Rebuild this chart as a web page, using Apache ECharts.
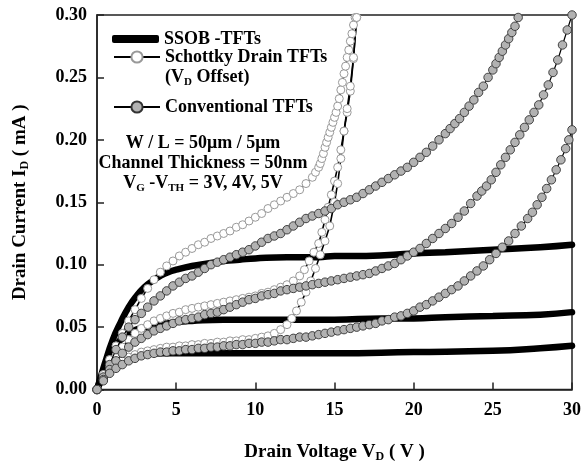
<!DOCTYPE html>
<html>
<head>
<meta charset="utf-8">
<script src="https://cdn.jsdelivr.net/npm/echarts@6/dist/echarts.min.js"></script>
<style>
html, body { margin: 0; padding: 0; background: #fff; }
#chart { width: 586px; height: 468px; }
</style>
</head>
<body>
<div id="chart"></div>
<script>
// drain voltage (V) / drain current (mA) pairs
var ssob5 = [[0,0],[0.5,0.021],[1,0.040],[1.5,0.054],[2,0.066],[2.5,0.075],[3,0.082],[3.5,0.087],[4,0.091],[4.5,0.094],[5,0.096],[6,0.099],[7,0.101],[8,0.103],[9,0.104],[10,0.105],[12,0.106],[14,0.106],[15,0.107],[17,0.107],[20,0.109],[22,0.110],[25,0.112],[28,0.114],[30,0.116]];
var ssob4 = [[0,0],[0.5,0.018],[1,0.032],[1.5,0.040],[2,0.045],[2.5,0.048],[3,0.050],[4,0.052],[5,0.054],[6,0.055],[8,0.056],[10,0.056],[12,0.056],[15,0.056],[18,0.057],[20,0.057],[22,0.058],[25,0.059],[28,0.060],[30,0.062]];
var ssob3 = [[0,0],[0.5,0.012],[1,0.020],[1.5,0.024],[2,0.026],[3,0.028],[4,0.029],[6,0.029],[10,0.029],[15,0.029],[20,0.030],[25,0.031],[28,0.033],[30,0.035]];

var schottky5 = [[0,0],[0.4,0.012],[0.8,0.024],[1.2,0.035],[1.6,0.045],[2.0,0.055],[2.4,0.064],[2.8,0.073],[3.2,0.081],[3.6,0.088],[4.0,0.094],[4.4,0.099],[4.8,0.103],[5.2,0.107],[5.6,0.110],[6.0,0.113],[6.4,0.116],[6.8,0.118],[7.2,0.121],[7.6,0.123],[8.0,0.125],[8.4,0.127],[8.8,0.130],[9.2,0.132],[9.6,0.135],[10.0,0.138],[10.4,0.141],[10.8,0.145],[11.2,0.148],[11.6,0.151],[12.0,0.154],[12.4,0.157],[12.8,0.160],[13.2,0.165],[13.6,0.170],[13.8,0.174],[14.0,0.178],[14.1,0.181],[14.2,0.185],[14.3,0.189],[14.4,0.194],[14.5,0.198],[14.6,0.202],[14.7,0.206],[14.8,0.210],[14.9,0.214],[15.0,0.218],[15.1,0.222],[15.2,0.227],[15.3,0.233],[15.4,0.240],[15.5,0.246],[15.6,0.253],[15.7,0.259],[15.8,0.266],[15.9,0.272],[16.0,0.279],[16.1,0.285],[16.2,0.292],[16.3,0.298]];
var schottky4 = [[0,0],[0.4,0.010],[0.8,0.019],[1.2,0.027],[1.6,0.034],[2.0,0.040],[2.4,0.045],[2.8,0.049],[3.2,0.052],[3.6,0.055],[4.0,0.057],[4.4,0.059],[4.8,0.061],[5.2,0.062],[5.6,0.064],[6.0,0.065],[6.4,0.066],[6.8,0.067],[7.2,0.068],[7.6,0.069],[8.0,0.070],[8.4,0.071],[8.8,0.072],[9.2,0.073],[9.6,0.074],[10.0,0.075],[10.4,0.077],[10.8,0.078],[11.2,0.080],[11.6,0.082],[12.0,0.084],[12.4,0.087],[12.8,0.091],[13.1,0.096],[13.4,0.103],[13.7,0.110],[14.0,0.117],[14.2,0.126],[14.4,0.136],[14.6,0.146],[14.8,0.156],[15.0,0.167],[15.2,0.178],[15.4,0.192],[15.6,0.207],[15.8,0.222],[16.0,0.239],[16.2,0.265],[16.4,0.298]];
var schottky3 = [[0,0],[0.4,0.008],[0.8,0.014],[1.2,0.019],[1.6,0.023],[2.0,0.026],[2.4,0.028],[2.8,0.030],[3.2,0.031],[3.6,0.032],[4.0,0.033],[4.4,0.034],[4.8,0.034],[5.2,0.035],[5.6,0.035],[6.0,0.036],[6.4,0.036],[6.8,0.037],[7.2,0.037],[7.6,0.038],[8.0,0.038],[8.4,0.039],[8.8,0.039],[9.2,0.040],[9.6,0.040],[10.0,0.041],[10.4,0.042],[10.8,0.043],[11.2,0.045],[11.6,0.048],[12.0,0.052],[12.3,0.057],[12.6,0.063],[12.9,0.070],[13.2,0.078],[13.5,0.087],[13.8,0.097],[14.1,0.108],[14.4,0.119],[14.7,0.131],[15.0,0.150],[15.2,0.165],[15.4,0.185],[15.6,0.207],[15.8,0.225],[16.0,0.243],[16.2,0.266],[16.4,0.298]];

var conv5 = [[0,0],[0.4,0.010],[0.8,0.020],[1.2,0.032],[1.6,0.042],[2.0,0.050],[2.4,0.056],[2.8,0.061],[3.2,0.066],[3.6,0.071],[4.0,0.075],[4.4,0.079],[4.8,0.083],[5.2,0.086],[5.6,0.089],[6.0,0.091],[6.4,0.094],[6.8,0.097],[7.2,0.100],[7.6,0.102],[8.0,0.104],[8.4,0.106],[8.8,0.108],[9.2,0.110],[9.6,0.112],[10.0,0.115],[10.4,0.118],[10.8,0.121],[11.2,0.123],[11.6,0.125],[12.0,0.128],[12.4,0.131],[12.8,0.134],[13.2,0.137],[13.6,0.139],[14.0,0.141],[14.4,0.143],[14.8,0.145],[15.2,0.148],[15.6,0.150],[16.0,0.152],[16.4,0.154],[16.8,0.157],[17.2,0.160],[17.6,0.163],[18.0,0.166],[18.4,0.169],[18.8,0.172],[19.2,0.175],[19.6,0.178],[20.0,0.182],[20.4,0.186],[20.8,0.190],[21.2,0.195],[21.6,0.200],[22.0,0.205],[22.3,0.209],[22.6,0.213],[22.9,0.217],[23.2,0.222],[23.5,0.227],[23.8,0.232],[24.1,0.238],[24.4,0.243],[24.7,0.250],[25.0,0.256],[25.2,0.261],[25.4,0.266],[25.6,0.271],[25.8,0.276],[26.0,0.281],[26.2,0.286],[26.4,0.291],[26.6,0.298]];
var conv4 = [[0,0],[0.4,0.008],[0.8,0.016],[1.2,0.023],[1.6,0.029],[2.0,0.034],[2.4,0.038],[2.8,0.041],[3.2,0.044],[3.6,0.047],[4.0,0.049],[4.4,0.051],[4.8,0.053],[5.2,0.055],[5.6,0.056],[6.0,0.057],[6.4,0.058],[6.8,0.060],[7.2,0.061],[7.6,0.062],[8.0,0.064],[8.4,0.066],[8.8,0.068],[9.2,0.070],[9.6,0.072],[10.0,0.073],[10.4,0.075],[10.8,0.076],[11.2,0.077],[11.6,0.079],[12.0,0.080],[12.4,0.081],[12.8,0.082],[13.2,0.083],[13.6,0.084],[14.0,0.085],[14.4,0.086],[14.8,0.087],[15.2,0.088],[15.6,0.089],[16.0,0.090],[16.4,0.091],[16.8,0.092],[17.2,0.093],[17.6,0.095],[18.0,0.097],[18.4,0.099],[18.8,0.101],[19.2,0.104],[19.6,0.107],[20.0,0.110],[20.4,0.113],[20.8,0.117],[21.2,0.121],[21.6,0.125],[22.0,0.129],[22.4,0.133],[22.8,0.138],[23.2,0.143],[23.6,0.149],[24.0,0.155],[24.3,0.159],[24.6,0.163],[24.9,0.168],[25.2,0.174],[25.5,0.180],[25.8,0.186],[26.1,0.192],[26.4,0.198],[26.7,0.204],[27.0,0.210],[27.3,0.216],[27.6,0.222],[27.9,0.228],[28.2,0.236],[28.5,0.244],[28.8,0.254],[29.1,0.264],[29.4,0.276],[29.7,0.288],[30.0,0.300]];
var conv3 = [[0,0],[0.4,0.007],[0.8,0.013],[1.2,0.017],[1.6,0.020],[2.0,0.023],[2.4,0.025],[2.8,0.027],[3.2,0.028],[3.6,0.029],[4.0,0.030],[4.4,0.030],[4.8,0.031],[5.2,0.031],[5.6,0.032],[6.0,0.032],[6.4,0.033],[6.8,0.033],[7.2,0.034],[7.6,0.034],[8.0,0.035],[8.4,0.035],[8.8,0.036],[9.2,0.036],[9.6,0.037],[10.0,0.037],[10.4,0.038],[10.8,0.038],[11.2,0.039],[11.6,0.040],[12.0,0.040],[12.4,0.041],[12.8,0.042],[13.2,0.042],[13.6,0.043],[14.0,0.044],[14.4,0.045],[14.8,0.046],[15.2,0.047],[15.6,0.048],[16.0,0.049],[16.4,0.050],[16.8,0.051],[17.2,0.052],[17.6,0.053],[18.0,0.055],[18.4,0.056],[18.8,0.058],[19.2,0.059],[19.6,0.061],[20.0,0.063],[20.4,0.066],[20.8,0.068],[21.2,0.071],[21.6,0.074],[22.0,0.077],[22.4,0.080],[22.8,0.083],[23.2,0.087],[23.6,0.091],[24.0,0.095],[24.4,0.099],[24.8,0.104],[25.2,0.109],[25.6,0.114],[26.0,0.119],[26.4,0.125],[26.8,0.131],[27.2,0.137],[27.5,0.142],[27.8,0.148],[28.1,0.154],[28.4,0.161],[28.7,0.168],[29.0,0.176],[29.3,0.184],[29.6,0.193],[29.8,0.200],[30.0,0.208]];

var FONT = "'Liberation Serif', 'Times New Roman', serif";
var SSOB = 'SSOB -TFTs';
var SCH = 'Schottky Drain TFTs';
var CONV = 'Conventional TFTs';

function ssobSeries(data){
	return {
		name: SSOB, type: 'line', data: data, symbol: 'none', smooth: true, z: 2,
		lineStyle: { color: '#000', width: 6.5, cap: 'round' },
		itemStyle: { color: '#000' }
	};
}
function schSeries(data){
	return {
		name: SCH, type: 'line', data: data, symbol: 'circle', symbolSize: 8, z: 3,
		lineStyle: { color: '#000', width: 1.6 },
		itemStyle: { color: '#fff', borderColor: '#999', borderWidth: 1 }
	};
}
function convSeries(data){
	return {
		name: CONV, type: 'line', data: data, symbol: 'circle', symbolSize: 8.5, z: 4,
		lineStyle: { color: '#000', width: 1.2 },
		itemStyle: { color: '#b2b2b2', borderColor: '#333', borderWidth: 0.9 }
	};
}

function rich(size){
	return {
		a: { fontFamily: FONT, fontWeight: 'bold', fontSize: size, color: '#000' },
		s: { fontFamily: FONT, fontWeight: 'bold', fontSize: Math.round(size * 0.62), color: '#000', verticalAlign: 'bottom', padding: [size * 0.55, 0, 0, 0] }
	};
}
var legendText = { fontFamily: FONT, fontWeight: 'bold', fontSize: 18, color: '#000', lineHeight: 20 };

var chart = echarts.init(document.getElementById('chart'));
chart.setOption({
	animation: false,
	backgroundColor: '#fff',
	grid: { left: 97, right: 14, top: 15, bottom: 72, show: true, borderColor: '#222', borderWidth: 1.5 },
	legend: [{
		data: [{ name: SSOB, icon: 'roundRect' }], left: 112, top: 29, padding: 0,
		itemWidth: 47, itemHeight: 8, itemGap: 0, itemStyle: { color: '#000' }, lineStyle: { width: 0 },
		textStyle: legendText
	}, {
		data: [SCH], left: 113, top: 47, padding: 0,
		itemWidth: 46, itemHeight: 14,
		textStyle: legendText
	}, {
		data: [CONV], left: 113, top: 97, padding: 0,
		itemWidth: 46, itemHeight: 14,
		textStyle: legendText
	}],
	xAxis: {
		type: 'value', min: 0, max: 30, interval: 5,
		name: '{a|Drain Voltage V}{s|D}{a| ( V )}', nameLocation: 'middle', nameGap: 51,
		nameTextStyle: { rich: rich(19) },
		axisLine: { show: true, lineStyle: { color: '#222', width: 1.5 } },
		axisTick: { show: true, inside: true, length: 7, lineStyle: { color: '#222', width: 1.5 } },
		axisLabel: { margin: 12, fontFamily: FONT, fontWeight: 'bold', fontSize: 18, color: '#000' },
		splitLine: { show: false }
	},
	yAxis: {
		type: 'value', min: 0, max: 0.3, interval: 0.05,
		name: '{a|Drain Current I}{s|D}{a| ( mA )}', nameLocation: 'middle', nameRotate: 90, nameGap: 66,
		nameTextStyle: { rich: rich(19) },
		axisLine: { show: true, lineStyle: { color: '#222', width: 1.5 } },
		axisTick: { show: true, inside: true, length: 7, lineStyle: { color: '#222', width: 1.5 } },
		axisLabel: { margin: 10, fontFamily: FONT, fontWeight: 'bold', fontSize: 18, color: '#000',
			formatter: function(v){ return v.toFixed(2); } },
		splitLine: { show: false }
	},
	graphic: [
		{ type: 'text', left: 165, top: 68, style: { text: '{a|(V}{s|D}{a| Offset)}', rich: rich(18) } },
		{ type: 'text', x: 203, y: 143, style: { text: 'W / L = 50\u03bcm / 5\u03bcm', align: 'center', verticalAlign: 'middle', fontFamily: FONT, fontWeight: 'bold', fontSize: 18, fill: '#000' } },
		{ type: 'text', x: 203, y: 163, style: { text: 'Channel Thickness = 50nm', align: 'center', verticalAlign: 'middle', fontFamily: FONT, fontWeight: 'bold', fontSize: 18, fill: '#000' } },
		{ type: 'text', x: 203, y: 183, style: { text: '{a|V}{s|G}{a| -V}{s|TH}{a| = 3V, 4V, 5V}', align: 'center', verticalAlign: 'middle', rich: rich(18) } }
	],
	series: [
		ssobSeries(ssob5), ssobSeries(ssob4), ssobSeries(ssob3),
		schSeries(schottky5), schSeries(schottky4), schSeries(schottky3),
		convSeries(conv5), convSeries(conv4), convSeries(conv3)
	]
});
</script>
</body>
</html>
